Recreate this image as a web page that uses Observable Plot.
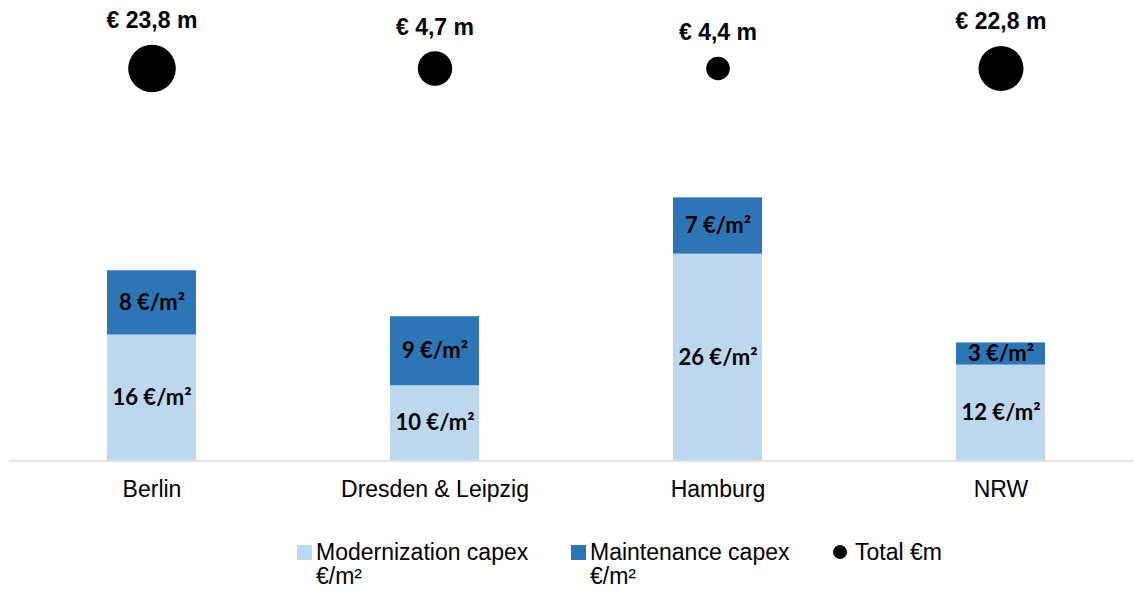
<!DOCTYPE html>
<html>
<head>
<meta charset="utf-8">
<script src="https://cdn.jsdelivr.net/npm/d3@7"></script>
<script src="https://cdn.jsdelivr.net/npm/@observablehq/plot@0.6"></script>
<style>
  html, body { margin: 0; padding: 0; background: #fff; }
  #chart { width: 1134px; }
  #legend { position: relative; height: 71px; width: 1134px; font-family: 'Liberation Sans', Arial, sans-serif; font-size: 23px; line-height: 24px; color: #000; }
  .item { position: absolute; top: 20px; display: flex; align-items: flex-start; }
  .sw { width: 15px; height: 15px; margin-top: 5px; margin-right: 4px; flex: none; }
  .dot { width: 14px; height: 14px; border-radius: 50%; background: #000; margin-top: 5px; margin-right: 8px; flex: none; }
</style>
</head>
<body>
<div id="chart"></div>
<div id="legend"></div>
<script>
const regions = ["Berlin", "Dresden & Leipzig", "Hamburg", "NRW"];
const modernization = [15.9, 9.5, 26.1, 12.1];
const maintenance = [8.1, 8.7, 7.1, 2.8];
const totals = [23.8, 4.7, 4.4, 22.8];
const seriesNames = ["Modernization capex €/m²", "Maintenance capex €/m²"];
const totalName = "Total €m";
const colors = ["#BDD7EE", "#2E75B6"];

const rows = [];
regions.forEach((r, i) => {
  rows.push({region: r, series: seriesNames[0], value: modernization[i]});
  rows.push({region: r, series: seriesNames[1], value: maintenance[i]});
});
const bubbles = regions.map((r, i) => ({region: r, total: totals[i]}));

const rOpts = {type: "linear", domain: [4.4, 4.7, 22.8, 23.8], range: [11.8, 17.2, 22.5, 23.8]};
const rScale = Plot.scale({r: rOpts});
const bubbleY = 68;

const labelMarks = bubbles.map(d => Plot.text([d], {
  x: "region",
  frameAnchor: "top",
  dy: bubbleY - rScale.apply(d.total) - 24,
  text: d => "€ " + d3.format(".1f")(d.total).replace(".", ",") + " m",
  fontWeight: "bold",
  fontSize: 23,
  lineAnchor: "middle",
  fill: "#000"
}));

const chart = Plot.plot({
  width: 1134,
  height: 520,
  marginTop: 0,
  marginLeft: 9,
  marginRight: 0,
  marginBottom: 59.5,
  style: {fontFamily: "'Liberation Sans', Arial, sans-serif", fontSize: "23px", color: "#000", background: "#fff", overflow: "visible"},
  x: {domain: regions, range: [9, 1143], paddingInner: 0.686, paddingOuter: 0.343, label: null},
  y: {domain: [0, 58.1], axis: null},
  color: {domain: seriesNames, range: colors},
  r: rOpts,
  marks: [
    Plot.barY(rows, Plot.stackY({x: "region", y: "value", fill: "series"})),
    Plot.text(rows, Plot.stackY({x: "region", y: "value", text: d => Math.round(d.value) + " €/m²",
      fontFamily: "Lato, 'Open Sans', sans-serif", fontWeight: "bold", fontSize: 22, fill: "#000"})),
    Plot.ruleY([0], {stroke: "#D9D9D9", strokeWidth: 1.5}),
    Plot.axisX({tickSize: 0, tickPadding: 20, fontSize: 23, label: null}),
    Plot.dot(bubbles, {x: "region", r: "total", frameAnchor: "top", dy: bubbleY, fill: "#000", stroke: null}),
    ...labelMarks
  ]
});
document.getElementById("chart").appendChild(chart);

const legend = document.getElementById("legend");
const items = [
  {kind: "sw", color: colors[0], lines: ["Modernization capex", "€/m²"], left: 297},
  {kind: "sw", color: colors[1], lines: ["Maintenance capex", "€/m²"], left: 571},
  {kind: "dot", color: "#000", lines: [totalName], left: 833}
];
items.forEach(it => {
  const div = document.createElement("div");
  div.className = "item";
  div.style.left = it.left + "px";
  const mark = document.createElement("span");
  mark.className = it.kind;
  mark.style.background = it.color;
  div.appendChild(mark);
  const t = document.createElement("span");
  t.innerHTML = it.lines.join("<br>");
  div.appendChild(t);
  legend.appendChild(div);
});
</script>
</body>
</html>
